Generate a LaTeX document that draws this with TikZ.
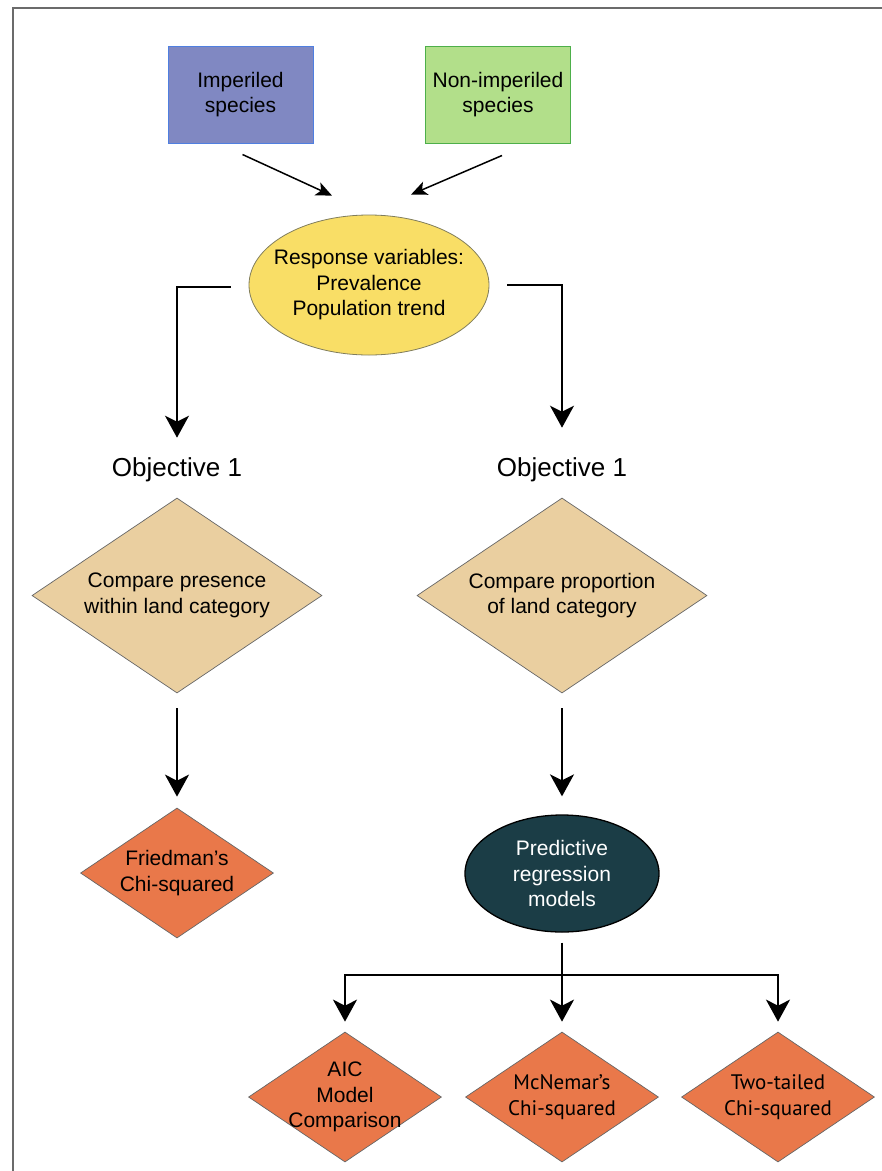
\documentclass[tikz,border=0pt]{standalone}
\usepackage{fontspec}
\setmainfont{Liberation Sans}
\newfontfamily\myriadlike{PT Sans}
\usetikzlibrary{shapes.geometric,arrows.meta,calc}

\definecolor{impblue}{HTML}{8088C2}
\definecolor{impedge}{HTML}{4F7FE0}
\definecolor{nongreen}{HTML}{B2DF8A}
\definecolor{nonedge}{HTML}{4DAF4A}
\definecolor{respyellow}{HTML}{F9DE66}
\definecolor{landtan}{HTML}{EACFA0}
\definecolor{testorange}{HTML}{E9784A}
\definecolor{darkteal}{HTML}{1B3D46}

\begin{document}
\begin{tikzpicture}[x=1pt,y=-1pt,
    txt/.style={font=\fontsize{21}{25.5}\selectfont, align=center},
    group/.style={txt, draw, line width=1pt, minimum width=145pt, minimum height=97pt, inner sep=0pt},
    respbubble/.style={txt, ellipse, draw=black!60!yellow!70!gray, line width=0.8pt, fill=respyellow, minimum width=240pt, minimum height=140pt, inner sep=-14pt},
    objlabel/.style={font=\fontsize{26}{30}\selectfont, inner sep=0pt},
    goalbox/.style={txt, diamond, aspect=1.49, draw=black!60, line width=0.7pt, fill=landtan, minimum width=290pt, minimum height=195pt, inner sep=-8pt},
    testbox/.style={txt, diamond, aspect=1.48, draw=black!60, line width=0.7pt, fill=testorange, minimum width=193pt, minimum height=130pt, inner sep=-8pt},
    modelbubble/.style={txt, ellipse, draw=black, line width=1.3pt, fill=darkteal, text=white, minimum width=194pt, minimum height=117pt, inner sep=0pt},
    tarr/.style={line width=1.5pt, -{Stealth[length=16pt, width=14pt, inset=4pt]}},
    arr/.style={line width=2pt, -{Stealth[length=22pt, width=24pt, inset=6pt]}}
]
    \useasboundingbox (0,0) rectangle (882,1171);
    \draw[black!58, line width=1.5pt] (13,1171) -- (13,8) -- (882,8); %frame

    \node[group, fill=impblue, draw=impedge] (imp) at (240.5,94.5) {Imperiled\\species};
    \node[group, fill=nongreen, draw=nonedge] (nimp) at (498,94.5) {Non-imperiled\\species};
    \node[respbubble] (resp) at (369,285) {Response variables:\\Prevalence\\Population trend};

    \draw[tarr] ($(imp.south)+(2,11)$) -- ($(resp.north)+(-37,-19)$);
    \draw[tarr] ($(nimp.south)+(4,12)$) -- ($(resp.north)+(42,-20)$);

    \node[objlabel] (objA) at (177,470) {Objective 1};
    \node[objlabel] (objB) at (562,470) {Objective 1};

    \draw[arr] ($(resp.west)+(-18,2)$) -| ($(objA.north)+(0,-20)$); %left branch
    \draw[arr] ($(resp.east)+(18,0)$) -| ($(objB.north)+(0,-30)$); %right branch

    \node[goalbox] (presence) at (177,595.5) {Compare presence\\within land category};
    \node[goalbox] (proportion) at (562,595.5) {Compare proportion\\of land category};

    \node[testbox] (friedman) at (177,873) {Friedman’s\\Chi-squared};
    \node[modelbubble] (pred) at (562,873.5) {Predictive\\regression\\models};

    \draw[arr] ($(presence.south)+(0,15)$) -- ($(friedman.north)+(0,-11)$);
    \draw[arr] ($(proportion.south)+(0,15)$) -- ($(pred.north)+(0,-18)$);

    \node[testbox] (aic) at (345,1097) {AIC\\Model\\Comparison};
    \node[testbox, font=\myriadlike\fontsize{21}{25.5}\selectfont] (mcn) at (562,1097) {McNemar’s\\Chi-squared};
    \node[testbox, font=\myriadlike\fontsize{21}{25.5}\selectfont] (twotail) at (778,1097) {Two-tailed\\Chi-squared};

    \draw[arr] ($(pred.south)+(0,10)$) -- ($(mcn.north)+(0,-10)$);
    \draw[arr] ($(pred.south)+(0,42)$) -| ($(aic.north)+(0,-10)$);
    \draw[arr] ($(pred.south)+(0,42)$) -| ($(twotail.north)+(0,-10)$);
\end{tikzpicture}
\end{document}
